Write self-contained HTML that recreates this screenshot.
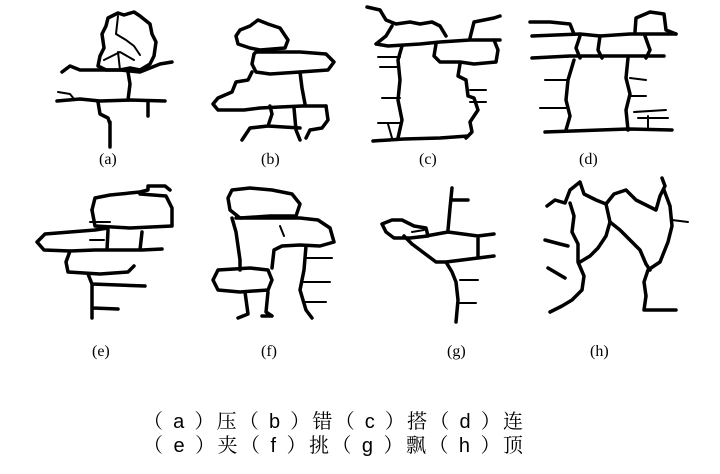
<!DOCTYPE html>
<html><head><meta charset="utf-8"><style>
html,body{margin:0;padding:0;background:#fff;}
svg{display:block}
.l{fill:none;stroke:#000;stroke-width:3.5;stroke-linejoin:round;stroke-linecap:round}
.t{stroke-width:2}
text{font-family:"Liberation Serif",serif;font-size:16px}
.cn{font-family:"Liberation Sans","Noto Serif CJK SC",serif;font-size:20px}
</style></head><body>
<svg width="720" height="474" viewBox="0 0 720 474">
<!-- (a) -->
<path class="l" d="M108 18 L118 13 L124 15 L134 12 L140 16 L150 24 L152 34 L156 42 L154 56 L150 64 L140 70 L130 68 L120 70 L106 70 L98 66 L100 56 L104 48 L102 34 L106 26 Z"/>
<path class="l t" d="M118 16 L116 34 L126 40 L134 46 L140 55 M104 60 L120 52 L134 60 M120 70 L118 52"/>
<path class="l" d="M62 72 L70 66 L80 70 L100 70 L120 70 L140 72 L160 64 L172 62"/>
<path class="l" d="M128 72 L130 84 L128 100"/>
<path class="l" d="M57 101 L80 99 L100 101 L130 100 L165 101"/>
<path class="l t" d="M58 92 L70 94 L74 99"/>
<path class="l" d="M98 102 L100 114 L108 118 L110 124 M110 122 L110 147 M148 102 L148 116"/>
<!-- (b) -->
<path class="l" d="M240 30 L250 26 L258 20 L268 24 L280 28 L288 40 L285 48 L260 50 L250 48 L238 44 L236 36 Z"/>
<path class="l" d="M256 52 L300 52 L326 54 L334 62 L328 70 L300 72 L270 74 L256 72 L252 64 L254 54 Z"/>
<path class="l" d="M252 72 L248 80 L236 82 L232 92 L218 98 L213 104 L218 110 L244 110 L260 108 L280 107 L302 106 L326 106"/>
<path class="l" d="M300 72 L302 88 L305 104 M326 106 L328 120 L322 128 L310 130 L306 138 M270 106 L272 114 M294 108 L296 130 L300 140 M272 114 L268 126 L250 128 L242 140 M268 126 L300 128"/>
<!-- (c) -->
<path class="l" d="M367 7 L380 10 L386 20 L396 24 L410 22 L420 24 L432 22 L440 26 L446 36"/>
<path class="l" d="M470 38 L474 22 L494 18 L500 16"/>
<path class="l" d="M392 26 L386 36 L376 44 L388 46 L420 44 L440 42 L470 40 L500 40"/>
<path class="l" d="M436 44 L434 56 L440 62 L460 62 L474 64 L496 62 L498 50 L494 40"/>
<path class="l" d="M402 46 L398 60 L400 80 L398 100 L402 120 L398 138 M460 64 L458 76 L466 80 L468 96 L474 98 L478 110 L470 122 L472 132 L466 138"/>
<path class="l" d="M373 141 L404 139 L440 138 L468 136"/>
<path class="l t" d="M378 57 L400 57 M380 67 L398 67 M382 98 L400 98 M378 123 L400 123 M470 90 L486 90 M470 102 L486 102 M388 124 L392 138"/>
<!-- (d) -->
<path class="l" d="M530 22 L550 22 L570 24 L574 34"/>
<path class="l" d="M635 32 L636 18 L650 12 L664 14 L666 30 L676 34"/>
<path class="l" d="M532 36 L580 34 L600 36 L630 34 L676 34"/>
<path class="l" d="M532 58 L570 56 L600 56 L630 56 L664 56 M600 36 L598 50 L602 58 M645 36 L650 50 L646 58"/>
<path class="l" d="M580 36 L576 48 L580 58"/>
<path class="l" d="M574 60 L568 80 L566 100 L570 116 L566 130 M628 58 L626 78 L630 94 L626 110 L628 130"/>
<path class="l" d="M545 132 L600 130 L628 129 L672 130"/>
<path class="l t" d="M545 80 L566 80 M540 108 L566 108 M630 78 L646 80 M630 96 L646 96 M634 112 L666 110 M648 116 L648 130 M638 118 L668 118"/>
<text x="99" y="164">(a)</text><text x="261" y="164">(b)</text><text x="419" y="164">(c)</text><text x="579" y="164">(d)</text>
<!-- (e) -->
<path class="l" d="M148 186 L165 186 L170 190 M92 210 L95 198 L110 195 L140 192 L148 190 L148 186"/>
<path class="l" d="M92 210 L95 226 L130 228 L172 226 L172 208 L166 196 L140 194"/>
<path class="l" d="M70 232 L95 230 L108 228 M70 232 L45 234 L37 242 L44 250 L70 251 L95 250 L108 250 L142 250 L162 249 M108 230 L107 250 M142 232 L140 250"/>
<path class="l" d="M70 251 L66 262 L68 272 L100 274 L128 272 L134 266 M88 274 L92 284 L145 286 M92 284 L92 318 M93 308 L118 309"/>
<path class="l t" d="M90 222 L110 222 M90 240 L104 240"/>
<!-- (f) -->
<path class="l" d="M232 190 L250 188 L272 190 L292 194 L300 204 L296 216 L270 216 L240 218 L230 210 L228 198 Z"/>
<path class="l" d="M232 218 L236 232 L240 260 L240 270 M236 218 L300 218 L318 220 L330 228 L334 242 L320 246 L300 245 L282 246 L274 250 L272 268"/>
<path class="l" d="M218 270 L250 268 L268 270 L272 280 L268 290 L240 292 L218 290 L213 280 Z"/>
<path class="l" d="M245 292 L248 314 L238 318 M268 292 L266 312 L272 316 L262 316 M306 246 L304 270 L300 290 L306 310 L312 318"/>
<path class="l t" d="M306 258 L332 258 M302 282 L330 282 M304 302 L326 302 M280 226 L284 236"/>
<!-- (g) -->
<path class="l" d="M452 188 L450 208 L448 230 M452 200 L468 200"/>
<path class="l" d="M382 224 L392 220 L402 220 L414 226 L426 228 L428 236 L410 238 L394 238 L386 232 Z"/>
<path class="l" d="M404 236 L412 244 L420 250 L428 256 L436 262 L446 262 L478 258 L478 236 L448 232 L426 236 M446 262 L452 272 L456 282 L458 300 L456 322 M478 236 L494 234 M478 258 L494 256"/>
<path class="l t" d="M460 280 L478 280 M458 303 L476 303 M412 232 L424 230"/>
<!-- (h) -->
<path class="l" d="M547 206 L555 200 L565 203 L570 190 L580 182 L584 194 L596 200 L606 204"/>
<path class="l" d="M570 203 L574 216 L572 232 L578 244 L578 262 L584 276 L582 290 L572 300 L562 306 L550 312"/>
<path class="l" d="M606 204 L610 222 L606 236 L598 248 L590 256 L580 262"/>
<path class="l" d="M606 204 L614 194 L626 190 L636 200 L648 206 L656 210 L660 196 L665 186 L662 178"/>
<path class="l" d="M664 190 L670 206 L672 226 L668 242 L660 262 L648 270 L644 282 L646 296 L644 310 L660 310 L676 310"/>
<path class="l" d="M610 222 L620 230 L630 240 L640 250 L646 264 L650 270"/>
<path class="l" d="M545 240 L560 244 L568 246 M548 268 L565 278"/>
<path class="l t" d="M672 220 L688 222"/>
<text x="92" y="356">(e)</text><text x="261" y="356">(f)</text><text x="447" y="356">(g)</text><text x="590" y="356">(h)</text>
<text class="cn" x="143" y="428" textLength="380" lengthAdjust="spacing">（ a ）压（ b ）错（ c ）搭（ d ）连</text>
<text class="cn" x="143" y="452" textLength="380" lengthAdjust="spacing">（ e ）夹（ f ）挑（ g ）飘（ h ）顶</text>
</svg>
</body></html>
